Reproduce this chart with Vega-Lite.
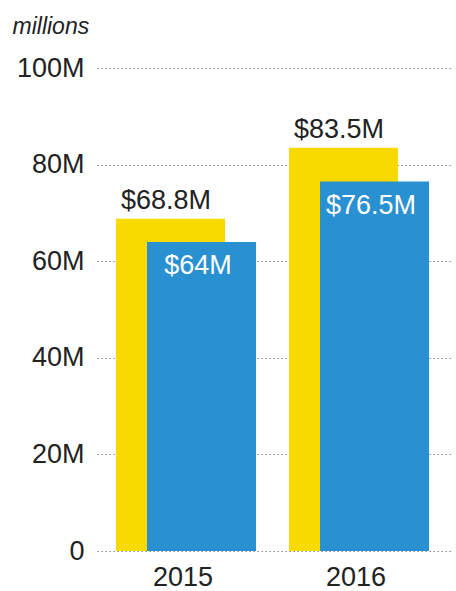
{
  "$schema": "https://vega.github.io/schema/vega-lite/v6.json",
  "width": 355,
  "height": 483,
  "autosize": {"type": "none"},
  "padding": {"left": 97, "top": 68, "right": 4, "bottom": 40},
  "background": "white",
  "config": {
    "view": {"stroke": null},
    "font": "Liberation Sans",
    "axis": {"labelFont": "Liberation Sans", "titleFont": "Liberation Sans"}
  },
  "data": {
    "values": [
      {"year": "2015", "series": "A", "value": 68.8, "label": "$68.8M"},
      {"year": "2015", "series": "B", "value": 64, "label": "$64M"},
      {"year": "2016", "series": "A", "value": 83.5, "label": "$83.5M"},
      {"year": "2016", "series": "B", "value": 76.5, "label": "$76.5M"}
    ]
  },
  "encoding": {
    "x": {
      "field": "year",
      "type": "ordinal",
      "scale": {"paddingInner": 0, "paddingOuter": 0.026, "align": 0.28},
      "axis": {
        "title": null,
        "domain": false,
        "ticks": false,
        "labelAngle": 0,
        "labelFontSize": 27,
        "labelColor": "#222222",
        "labelPadding": 13,
        "labelOffset": -3
      }
    },
    "y": {
      "field": "value",
      "type": "quantitative",
      "scale": {"domain": [0, 100], "nice": false},
      "axis": {
        "title": "millions",
        "titleAngle": 0,
        "titleX": -85,
        "titleY": -35,
        "titleAlign": "left",
        "titleBaseline": "alphabetic",
        "titleFontStyle": "italic",
        "titleFontWeight": "normal",
        "titleFontSize": 23,
        "titleColor": "#222222",
        "values": [0, 20, 40, 60, 80, 100],
        "labelExpr": "datum.value == 0 ? '0' : datum.value + 'M'",
        "labelFontSize": 27,
        "labelColor": "#222222",
        "labelPadding": 13,
        "domain": false,
        "ticks": false,
        "grid": true,
        "gridColor": "#888888",
        "gridDash": [1.5, 2.5],
        "gridWidth": 1.2
      }
    }
  },
  "layer": [
    {
      "transform": [{"filter": "datum.series == 'A'"}],
      "mark": {"type": "bar", "width": 109, "xOffset": -15.5, "color": "#F8D900"}
    },
    {
      "transform": [{"filter": "datum.series == 'B'"}],
      "mark": {"type": "bar", "width": 109, "xOffset": 15.5, "color": "#2990D1"}
    },
    {
      "transform": [{"filter": "datum.series == 'A'"}],
      "mark": {"type": "text", "xOffset": -20, "dy": -10, "baseline": "alphabetic", "align": "center", "fontSize": 27, "color": "#222222"},
      "encoding": {"text": {"field": "label"}}
    },
    {
      "transform": [{"filter": "datum.series == 'B'"}],
      "mark": {"type": "text", "xOffset": 12, "dy": 32, "baseline": "alphabetic", "align": "center", "fontSize": 27, "color": "white"},
      "encoding": {"text": {"field": "label"}}
    }
  ]
}
